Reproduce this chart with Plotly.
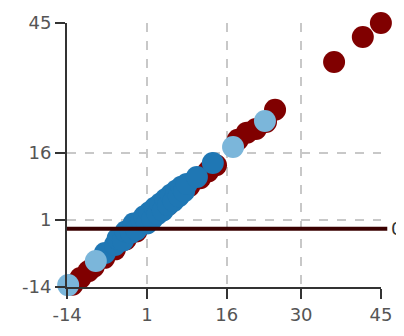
import plotly.graph_objects as go

# Data
red_x = [-13.0, -11.5, -10.0, -9.0, -7.0, -5.0, -3.0, -1.0, 1.0, 3.0, 5.0, 7.0, 9.0, 11.0, 12.5, 14.0, 18.1, 19.8, 21.5, 23.4, 25.1, 36.2, 41.6, 45.0]
red_y = [-13.5, -12.0, -10.5, -9.5, -7.5, -5.6, -3.4, -1.6, 0.4, 2.5, 4.4, 6.5, 8.6, 10.3, 11.8, 13.2, 18.9, 20.5, 21.3, 22.9, 25.6, 36.3, 41.9, 45.0]

blue_x = [-6.9, -5.0, -4.5, -3.5, -3.0, -2.0, -1.5, -1.0, 0.0, 0.5, 1.0, 1.5, 2.0, 2.5, 3.0, 3.5, 4.0, 4.5, 5.0, 5.5, 6.0, 6.5, 7.0, 7.5, 8.0, 8.5, 10.4, 13.4]
blue_y = [-6.4, -4.6, -3.2, -3.6, -1.6, -1.9, 0.2, -1.2, 0.9, 1.8, 0.2, 2.7, 1.2, 3.7, 2.3, 4.6, 3.1, 5.6, 4.3, 6.6, 5.2, 7.5, 6.3, 8.4, 7.4, 9.0, 10.6, 13.7]

light_x = [-13.8, -8.6, 17.2, 23.2]
light_y = [-13.6, -8.2, 17.3, 23.1]

x_ticks = [-14, 1, 16, 30, 45]
y_ticks = [-14, 1, 16, 45]
ref_line_y = -1.0
ref_label = "0"

fig = go.Figure()
for xs, ys, col in [(red_x, red_y, "#800000"), (blue_x, blue_y, "#1f77b4"), (light_x, light_y, "#7bb6da")]:
    fig.add_trace(go.Scatter(x=xs, y=ys, mode="markers", cliponaxis=False,
                             marker=dict(size=22, color=col, line=dict(width=0)),
                             showlegend=False, hoverinfo="skip"))

fig.add_shape(type="line", xref="paper", yref="y", x0=0, x1=1.02, y0=ref_line_y, y1=ref_line_y,
              line=dict(color="#3a0000", width=4), layer="above")
fig.add_annotation(xref="paper", yref="y", x=1.024, y=ref_line_y, text=ref_label, showarrow=False,
                   xanchor="left", yanchor="middle", font=dict(size=18, color="#333"))

axis_common = dict(showline=True, linecolor="#333", linewidth=2, ticks="outside", ticklen=10,
                   tickwidth=2, tickcolor="#333", showgrid=True, gridcolor="#c8c8c8", griddash="dash",
                   gridwidth=1.5, zeroline=False, automargin=False,
                   tickfont=dict(size=18, color="#555", family="DejaVu Sans"))
fig.update_xaxes(range=[-14.02, 45.02], tickvals=x_ticks, ticktext=[str(v) for v in x_ticks], **axis_common)
fig.update_yaxes(range=[-14.02, 45.02], tickvals=y_ticks, ticktext=[str(v) for v in y_ticks], **axis_common)

# page body has an 8px margin, so the figure is sized/offset to compensate
fig.update_layout(width=396, height=328, margin=dict(l=59, r=23, t=15, b=49),
                  plot_bgcolor="white", paper_bgcolor="white",
                  font=dict(family="DejaVu Sans"))
fig.write_html("out.html")
